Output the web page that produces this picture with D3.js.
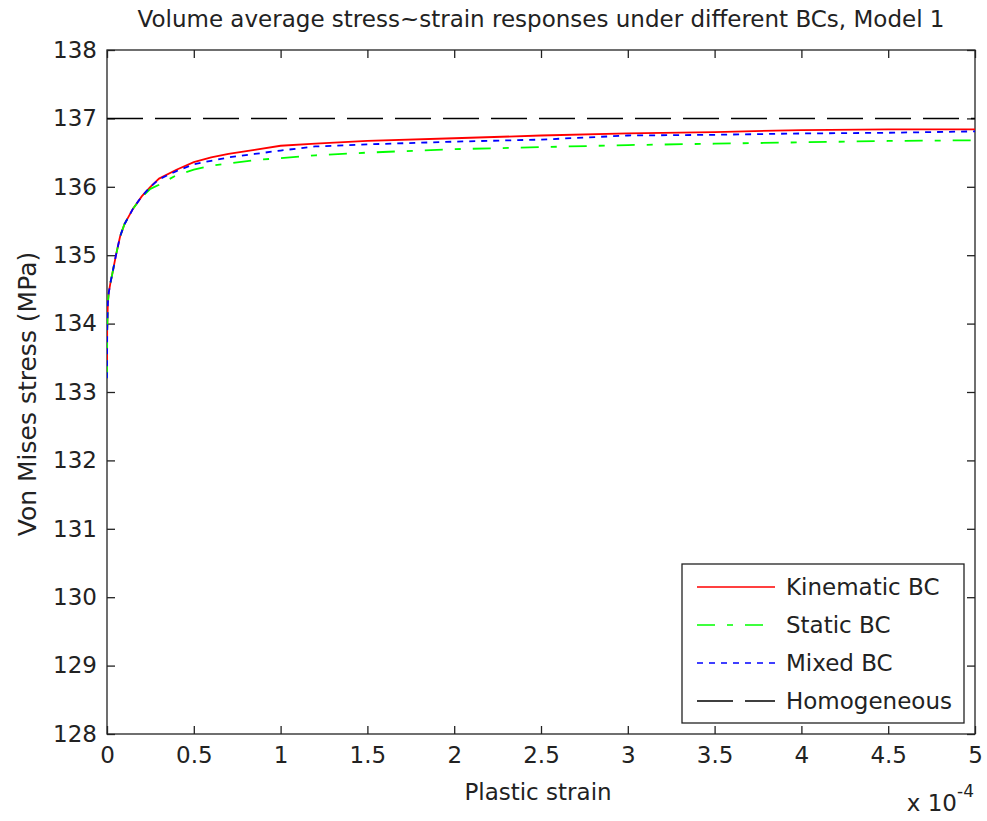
<!DOCTYPE html>
<html lang="en">
<head>
    <meta charset="UTF-8">
    <title>Volume average stress~strain responses</title>
    <script src="https://d3js.org/d3.v7.min.js"></script>
    <style>
        body { margin: 0; background: #fff; }
        svg { display: block; }
        text { font-family: 'DejaVu Sans', sans-serif; fill: #222; }
        .axis path, .axis line { stroke: #222; }
    </style>
</head>
<body>
    <svg width="987" height="821"></svg>
    <script>
        // plastic strain, in units of 1e-4
        const strain = [0, 0.001, 0.005, 0.01, 0.02, 0.03, 0.05, 0.075, 0.1, 0.15, 0.2, 0.25, 0.3, 0.4,
                        0.5, 0.6, 0.7, 0.85, 1.0, 1.2, 1.5, 2.0, 2.5, 3.0, 3.5, 4.0, 4.5, 5.0];
        const kinematic = [133.2, 133.9, 134.3, 134.45, 134.6, 134.72, 134.98, 135.27, 135.45, 135.68, 135.86, 136.0, 136.12, 136.25,
                           136.36, 136.43, 136.48, 136.54, 136.6, 136.63, 136.67, 136.71, 136.75, 136.78, 136.8, 136.83, 136.84, 136.84];
        const staticBC = [133.2, 133.9, 134.3, 134.45, 134.6, 134.72, 134.98, 135.27, 135.45, 135.68, 135.85, 135.97, 136.03, 136.17,
                          136.25, 136.31, 136.34, 136.39, 136.42, 136.46, 136.5, 136.55, 136.58, 136.61, 136.63, 136.65, 136.67, 136.68];
        const mixed = [133.2, 133.9, 134.3, 134.45, 134.6, 134.72, 134.98, 135.27, 135.45, 135.68, 135.86, 136.0, 136.11, 136.23,
                       136.33, 136.38, 136.43, 136.48, 136.53, 136.59, 136.62, 136.66, 136.69, 136.75, 136.76, 136.78, 136.79, 136.81];
        const homogeneous = [137, 137];
        const homStrain = [0, 5];

        const xTicks = [0, 0.5, 1, 1.5, 2, 2.5, 3, 3.5, 4, 4.5, 5];
        const yTicks = [128, 129, 130, 131, 132, 133, 134, 135, 136, 137, 138];

        const series = [
            { name: "Kinematic BC", x: strain, y: kinematic, color: "#ff0000", dash: null },
            { name: "Static BC", x: strain, y: staticBC, color: "#00ff00", dash: "18,12,6,12" },
            { name: "Mixed BC", x: strain, y: mixed, color: "#0000ff", dash: "6,6" },
            { name: "Homogeneous", x: homStrain, y: homogeneous, color: "#000000", dash: "36,12" }
        ];

        const svg = d3.select("svg");
        const pLeft = 107, pRight = 975, pTop = 50, pBottom = 734;

        const x = d3.scaleLinear().domain([0, 5]).range([pLeft, pRight]);
        const y = d3.scaleLinear().domain([128, 138]).range([pBottom, pTop]);

        // box
        svg.append("rect")
            .attr("x", pLeft).attr("y", pTop)
            .attr("width", pRight - pLeft).attr("height", pBottom - pTop)
            .attr("fill", "none").attr("stroke", "#222").attr("stroke-width", 1.3);

        // axes with inward ticks
        const fmt = d => String(d);
        svg.append("g").attr("class", "axis")
            .attr("transform", `translate(0,${pBottom})`)
            .call(d3.axisBottom(x).tickValues(xTicks).tickSize(-8).tickPadding(13).tickFormat(fmt));
        svg.append("g").attr("class", "axis")
            .attr("transform", `translate(0,${pTop})`)
            .call(d3.axisTop(x).tickValues(xTicks).tickSize(-8).tickFormat(""));
        svg.append("g").attr("class", "axis")
            .attr("transform", `translate(${pLeft},0)`)
            .call(d3.axisLeft(y).tickValues(yTicks).tickSize(-8).tickPadding(10).tickFormat(fmt));
        svg.append("g").attr("class", "axis")
            .attr("transform", `translate(${pRight},0)`)
            .call(d3.axisRight(y).tickValues(yTicks).tickSize(-8).tickFormat(""));
        svg.selectAll(".axis .domain").remove();
        svg.selectAll(".axis line").attr("stroke-width", 1.3);
        svg.selectAll(".axis text").attr("font-size", 23).attr("fill", "#222")
            .attr("font-family", "'DejaVu Sans', sans-serif");

        // clip
        svg.append("clipPath").attr("id", "clip")
            .append("rect").attr("x", pLeft).attr("y", pTop)
            .attr("width", pRight - pLeft).attr("height", pBottom - pTop);

        const line = d3.line().x(d => x(d[0])).y(d => y(d[1]));

        svg.append("g").attr("clip-path", "url(#clip)")
            .selectAll("path")
            .data(series)
            .join("path")
            .attr("d", s => line(s.x.map((v, i) => [v, s.y[i]])))
            .attr("fill", "none")
            .attr("stroke", s => s.color)
            .attr("stroke-width", s => s.name === "Homogeneous" ? 1.5 : 1.8)
            .attr("stroke-dasharray", s => s.dash);

        // title and labels
        svg.append("text")
            .attr("x", (pLeft + pRight) / 2).attr("y", 27)
            .attr("text-anchor", "middle").attr("font-size", 23)
            .text("Volume average stress~strain responses under different BCs, Model 1");

        svg.append("text")
            .attr("x", (pLeft + pRight) / 2 - 3).attr("y", 800)
            .attr("text-anchor", "middle").attr("font-size", 23)
            .text("Plastic strain");

        svg.append("text")
            .attr("transform", `translate(36,${(pTop + pBottom) / 2 + 2}) rotate(-90)`)
            .attr("text-anchor", "middle").attr("font-size", 25)
            .text("Von Mises stress (MPa)");

        svg.append("text")
            .attr("x", 957).attr("y", 811)
            .attr("text-anchor", "end").attr("font-size", 23)
            .text("x 10");
        svg.append("text")
            .attr("x", 957).attr("y", 797)
            .attr("font-size", 17)
            .text("-4");

        // legend
        const lg = svg.append("g");
        lg.append("rect")
            .attr("x", 682).attr("y", 564)
            .attr("width", 282).attr("height", 159)
            .attr("fill", "#fff").attr("stroke", "#222").attr("stroke-width", 1.3);
        series.forEach((s, i) => {
            const cy = 587 + i * 38;
            lg.append("line")
                .attr("x1", 697).attr("x2", 775)
                .attr("y1", cy).attr("y2", cy)
                .attr("stroke", s.color).attr("stroke-width", 1.5)
                .attr("stroke-dasharray", s.dash);
            lg.append("text")
                .attr("x", 786).attr("y", cy).attr("dy", "0.36em")
                .attr("font-size", 23)
                .text(s.name);
        });
    </script>
</body>
</html>
